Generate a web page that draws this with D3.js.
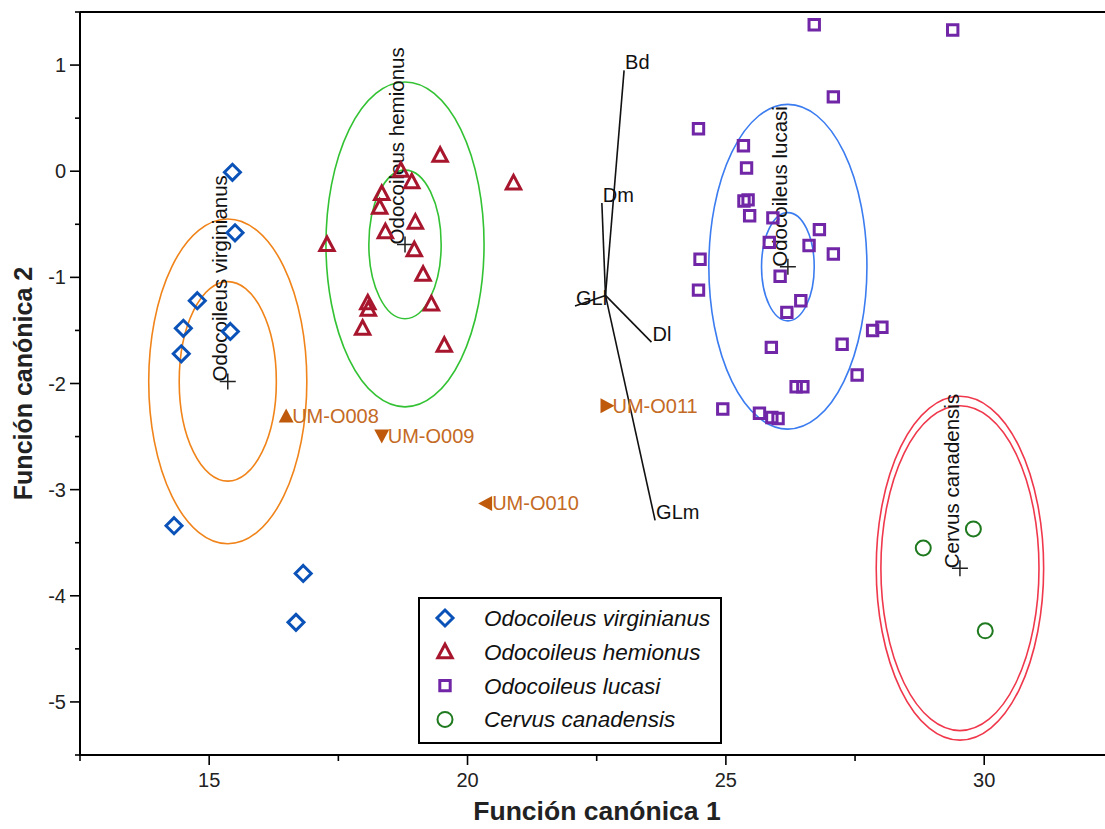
<!DOCTYPE html>
<html>
<head>
<meta charset="utf-8">
<script src="https://cdn.jsdelivr.net/npm/d3@7"></script>
<style>
  html, body { margin: 0; padding: 0; background: #fff; }
  svg { display: block; font-family: "Liberation Sans", Arial, sans-serif; }
</style>
</head>
<body>
<svg id="chart" width="1105" height="829"></svg>
<script>
// Canonical discriminant scores (Función canónica 1, Función canónica 2)
const virginianus = [[15.45,-0.01],[15.50,-0.58],[14.77,-1.22],[14.50,-1.48],[14.46,-1.72],
  [15.41,-1.51],[14.32,-3.34],[16.82,-3.79],[16.68,-4.25]];
const hemionus = [[19.47,0.15],[20.89,-0.11],[18.71,0.01],[18.92,-0.10],[18.34,-0.21],
  [18.30,-0.34],[18.99,-0.48],[18.41,-0.57],[17.28,-0.69],[18.97,-0.74],[19.14,-0.97],
  [18.07,-1.24],[18.08,-1.30],[19.30,-1.25],[17.97,-1.48],[19.55,-1.64]];
const lucasi = [[26.71,1.38],[29.39,1.33],[27.08,0.70],[24.47,0.40],[25.34,0.24],[25.40,0.03],
  [25.35,-0.28],[25.43,-0.27],[25.46,-0.42],[25.91,-0.44],[26.81,-0.55],[25.84,-0.67],
  [26.61,-0.70],[27.08,-0.78],[24.50,-0.83],[26.05,-0.99],[24.47,-1.12],[26.45,-1.22],
  [26.18,-1.33],[27.84,-1.50],[28.02,-1.47],[25.88,-1.66],[27.25,-1.63],[27.54,-1.92],
  [26.36,-2.03],[26.49,-2.03],[24.94,-2.24],[25.65,-2.28],[25.89,-2.32],[26.01,-2.33]];
const canadensis = [[29.79,-3.37],[28.82,-3.55],[30.02,-4.33]];

// Group means and the radii (canonical units) of the two regions drawn round each
const groupNames = ["Odocoileus virginianus","Odocoileus hemionus","Odocoileus lucasi","Cervus canadensis"];
const groupMeans = [[15.36,-1.98],[18.79,-0.69],[26.20,-0.90],[29.53,-3.74]];
const outerRadius = [1.53,1.53,1.53,1.53];
const innerRadius = [0.94,0.70,0.51,1.62];

// Unclassified specimens
const specimenIds = ["UM-O008","UM-O009","UM-O010","UM-O011"];
const specimenScores = [[16.49,-2.31],[18.34,-2.49],[20.36,-3.13],[22.69,-2.21]];

// Variable loadings (biplot rays)
const rayOrigin = [22.67,-1.17];
const rayNames = ["Bd","Dm","GLl","Dl","GLm"];
const rayEnds = [[23.03,0.95],[22.60,-0.30],[22.08,-1.27],[23.56,-1.61],[23.63,-3.29]];

// Axis ticks
const xMajorTicks = [15,20,25,30];
const xMinorTicks = [12.5,17.5,22.5,27.5];
const yMajorTicks = [1,0,-1,-2,-3,-4,-5];
const yMinorTicks = [1.5,0.5,-0.5,-1.5,-2.5,-3.5,-4.5,-5.5];

(function () {
  const svg = d3.select("#chart");
  const plotLeft = 80, plotTop = 12, plotBottom = 755, plotRight = 1105;
  const x = d3.scaleLinear().domain([12.5, 32.5]).range([plotLeft, plotLeft + 20 * 51.67]);
  const y = d3.scaleLinear().domain([-5.5, 1.5]).range([plotBottom, plotTop]);

  const groupColors = ["#0a52b8", "#a8162e", "#7026a6", "#1f7a1f"];
  const ellipseColors = ["#f0841a", "#33c233", "#3b7cf0", "#f0384c"];
  const specimenMark = "#bf5a0c", specimenText = "#c46a24";

  // marker shapes
  const shapes = [
    "M0,-8L8,0L0,8L-8,0Z",          // diamond
    "M0,-7.5L7.2,6L-7.2,6Z",         // triangle
    "M-5.2,-5.2H5.2V5.2H-5.2Z",      // square
    null                             // circle
  ];
  const strokeW = [3, 3, 3, 2];

  // confidence regions
  const ellipses = svg.append("g");
  groupMeans.forEach((m, i) => {
    [outerRadius[i], innerRadius[i]].forEach(r => {
      ellipses.append("ellipse")
        .attr("cx", x(m[0])).attr("cy", y(m[1]))
        .attr("rx", x(m[0] + r) - x(m[0]))
        .attr("ry", y(m[1]) - y(m[1] + r))
        .attr("fill", "none").attr("stroke", ellipseColors[i]).attr("stroke-width", 1.6);
    });
  });

  // biplot rays
  const rays = svg.append("g");
  rayEnds.forEach((e, i) => {
    rays.append("line")
      .attr("x1", x(rayOrigin[0])).attr("y1", y(rayOrigin[1]))
      .attr("x2", x(e[0])).attr("y2", y(e[1]))
      .attr("stroke", "#111").attr("stroke-width", 1.6);
    rays.append("text")
      .attr("x", x(e[0]) + 1).attr("y", y(e[1]) - 1)
      .attr("font-size", 20).attr("fill", "#111").text(rayNames[i]);
  });

  // group labels and centroid crosses
  groupMeans.forEach((m, i) => {
    const g = svg.append("g").attr("transform", `translate(${x(m[0])},${y(m[1])})`);
    g.append("path").attr("d", "M-8,0H8M0,-8V8").attr("stroke", "#222").attr("stroke-width", 1.5);
    g.append("text").attr("transform", "translate(-1,0) rotate(-90)")
      .attr("font-size", 20.5).attr("fill", "#111").text(groupNames[i]);
  });

  // observations
  function drawGroup(data, i) {
    const g = svg.append("g");
    data.forEach(d => {
      if (shapes[i]) {
        g.append("path").attr("d", shapes[i])
          .attr("transform", `translate(${x(d[0])},${y(d[1])})`)
          .attr("fill", "none").attr("stroke", groupColors[i]).attr("stroke-width", strokeW[i]);
      } else {
        g.append("circle").attr("cx", x(d[0])).attr("cy", y(d[1])).attr("r", 7.5)
          .attr("fill", "none").attr("stroke", groupColors[i]).attr("stroke-width", strokeW[i]);
      }
    });
  }
  [virginianus, hemionus, lucasi, canadensis].forEach(drawGroup);

  // unclassified specimens: filled triangles pointing up, down, left, right
  const specimenRot = [0, 180, 270, 90];
  specimenScores.forEach((s, i) => {
    const px = x(s[0]), py = y(s[1]);
    svg.append("path").attr("d", "M0,-8L7.5,6L-7.5,6Z")
      .attr("transform", `translate(${px},${py}) rotate(${specimenRot[i]})`)
      .attr("fill", specimenMark);
    svg.append("text").attr("x", px + 6).attr("y", py + 7)
      .attr("font-size", 20).attr("fill", specimenText).text(specimenIds[i]);
  });

  // axes
  const axes = svg.append("g").attr("stroke", "#000").attr("fill", "none");
  axes.append("line").attr("x1", plotLeft).attr("x2", plotRight).attr("y1", plotTop).attr("y2", plotTop).attr("stroke-width", 2);
  axes.append("line").attr("x1", plotLeft).attr("x2", plotLeft).attr("y1", plotTop).attr("y2", plotBottom + 1).attr("stroke-width", 2);
  axes.append("line").attr("x1", plotLeft - 1).attr("x2", plotRight).attr("y1", plotBottom).attr("y2", plotBottom).attr("stroke-width", 2);

  xMajorTicks.forEach(t => {
    axes.append("line").attr("x1", x(t)).attr("x2", x(t)).attr("y1", plotBottom).attr("y2", plotBottom + 10).attr("stroke-width", 1.6);
  });
  xMinorTicks.forEach(t => {
    axes.append("line").attr("x1", x(t)).attr("x2", x(t)).attr("y1", plotBottom).attr("y2", plotBottom + 6).attr("stroke-width", 1.6);
  });
  yMajorTicks.forEach(t => {
    axes.append("line").attr("x1", plotLeft - 10).attr("x2", plotLeft).attr("y1", y(t)).attr("y2", y(t)).attr("stroke-width", 1.6);
  });
  yMinorTicks.forEach(t => {
    axes.append("line").attr("x1", plotLeft - 5).attr("x2", plotLeft).attr("y1", y(t)).attr("y2", y(t)).attr("stroke-width", 1.6);
  });

  svg.append("g").selectAll("text").data(xMajorTicks).join("text")
    .attr("x", d => x(d)).attr("y", plotBottom + 32)
    .attr("text-anchor", "middle").attr("font-size", 20).attr("fill", "#222")
    .text(d => d);
  svg.append("g").selectAll("text").data(yMajorTicks).join("text")
    .attr("x", plotLeft - 14).attr("y", d => y(d) + 7)
    .attr("text-anchor", "end").attr("font-size", 20).attr("fill", "#222")
    .text(d => d);

  svg.append("text").attr("x", 597).attr("y", 820).attr("text-anchor", "middle")
    .attr("font-size", 26.5).attr("font-weight", "bold").attr("fill", "#222")
    .text("Función canónica 1");
  svg.append("text").attr("transform", `translate(32,${(plotTop + plotBottom) / 2}) rotate(-90)`)
    .attr("text-anchor", "middle").attr("font-size", 25).attr("font-weight", "bold").attr("fill", "#222")
    .text("Función canónica 2");

  // legend
  const legend = svg.append("g");
  legend.append("rect").attr("x", 419).attr("y", 598).attr("width", 302).attr("height", 145)
    .attr("fill", "#fff").attr("stroke", "#000").attr("stroke-width", 2);
  groupNames.forEach((n, i) => {
    const ly = 618 + i * 33.8;
    if (shapes[i]) {
      legend.append("path").attr("d", shapes[i]).attr("transform", `translate(445,${ly})`)
        .attr("fill", "none").attr("stroke", groupColors[i]).attr("stroke-width", strokeW[i]);
    } else {
      legend.append("circle").attr("cx", 445).attr("cy", ly).attr("r", 7.5)
        .attr("fill", "none").attr("stroke", groupColors[i]).attr("stroke-width", strokeW[i]);
    }
    legend.append("text").attr("x", 484).attr("y", ly + 8)
      .attr("font-size", 22.5).attr("font-style", "italic").attr("fill", "#111").text(n);
  });
})();
</script>
</body>
</html>
